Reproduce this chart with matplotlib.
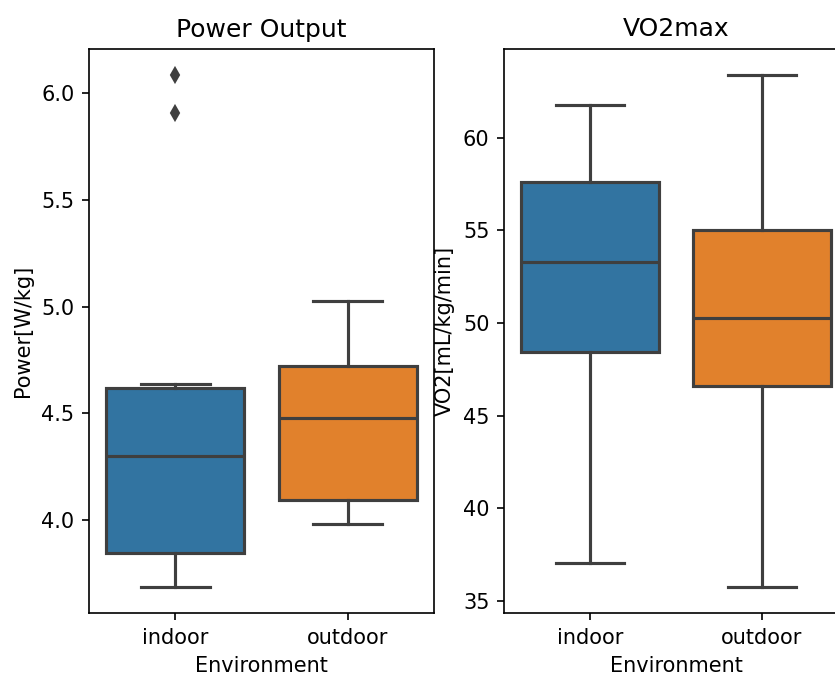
import matplotlib
matplotlib.use("Agg")
import matplotlib.pyplot as plt

categories = ["indoor", "outdoor"]
box_colors = ["#3274a1", "#e1812c"]

# Power Output (W/kg) box statistics
power_whislo = [3.687, 3.982]
power_q1 = [3.846, 4.094]
power_med = [4.301, 4.481]
power_q3 = [4.618, 4.724]
power_whishi = [4.640, 5.024]
power_fliers = [[6.084, 5.905], []]

# VO2max (mL/kg/min) box statistics
vo2_whislo = [37.05, 35.72]
vo2_q1 = [48.41, 46.62]
vo2_med = [53.29, 50.25]
vo2_q3 = [57.63, 55.00]
vo2_whishi = [61.78, 63.42]
vo2_fliers = [[], []]


def make_stats(lo, q1, med, q3, hi, fliers):
    stats = []
    for i in range(len(categories)):
        stats.append({"label": categories[i], "whislo": lo[i], "q1": q1[i], "med": med[i],
                      "q3": q3[i], "whishi": hi[i], "fliers": fliers[i]})
    return stats


def draw_box(ax, stats, title, ylabel):
    line = "#3f3f3f"
    bp = ax.bxp(stats, positions=range(len(categories)), widths=0.8, capwidths=0.4,
                patch_artist=True, showfliers=True,
                boxprops=dict(edgecolor=line, linewidth=1.5),
                medianprops=dict(color=line, linewidth=1.5),
                whiskerprops=dict(color=line, linewidth=1.5),
                capprops=dict(color=line, linewidth=1.5),
                flierprops=dict(marker="d", markerfacecolor=line, markeredgecolor=line,
                                markersize=5, linestyle="none"))
    for patch, c in zip(bp["boxes"], box_colors):
        patch.set_facecolor(c)
    ax.set_xlim(-0.5, len(categories) - 0.5)
    ax.set_xticks(range(len(categories)))
    ax.set_xticklabels(categories)
    ax.set_title(title, fontsize=12)
    ax.set_xlabel("Environment")
    ax.set_ylabel(ylabel)


fig = plt.figure(figsize=(835 / 150, 674 / 150), dpi=150)
ax1 = fig.add_axes([89 / 835, 61 / 674, 345 / 835, 564 / 674])
ax2 = fig.add_axes([504 / 835, 61 / 674, 344 / 835, 564 / 674])

draw_box(ax1, make_stats(power_whislo, power_q1, power_med, power_q3, power_whishi, power_fliers),
         "Power Output", "Power[W/kg]")
ax1.set_yticks([4.0, 4.5, 5.0, 5.5, 6.0])

draw_box(ax2, make_stats(vo2_whislo, vo2_q1, vo2_med, vo2_q3, vo2_whishi, vo2_fliers),
         "VO2max", "VO2[mL/kg/min]")
ax2.set_yticks([35, 40, 45, 50, 55, 60])

fig.savefig("out.png", dpi=150)
